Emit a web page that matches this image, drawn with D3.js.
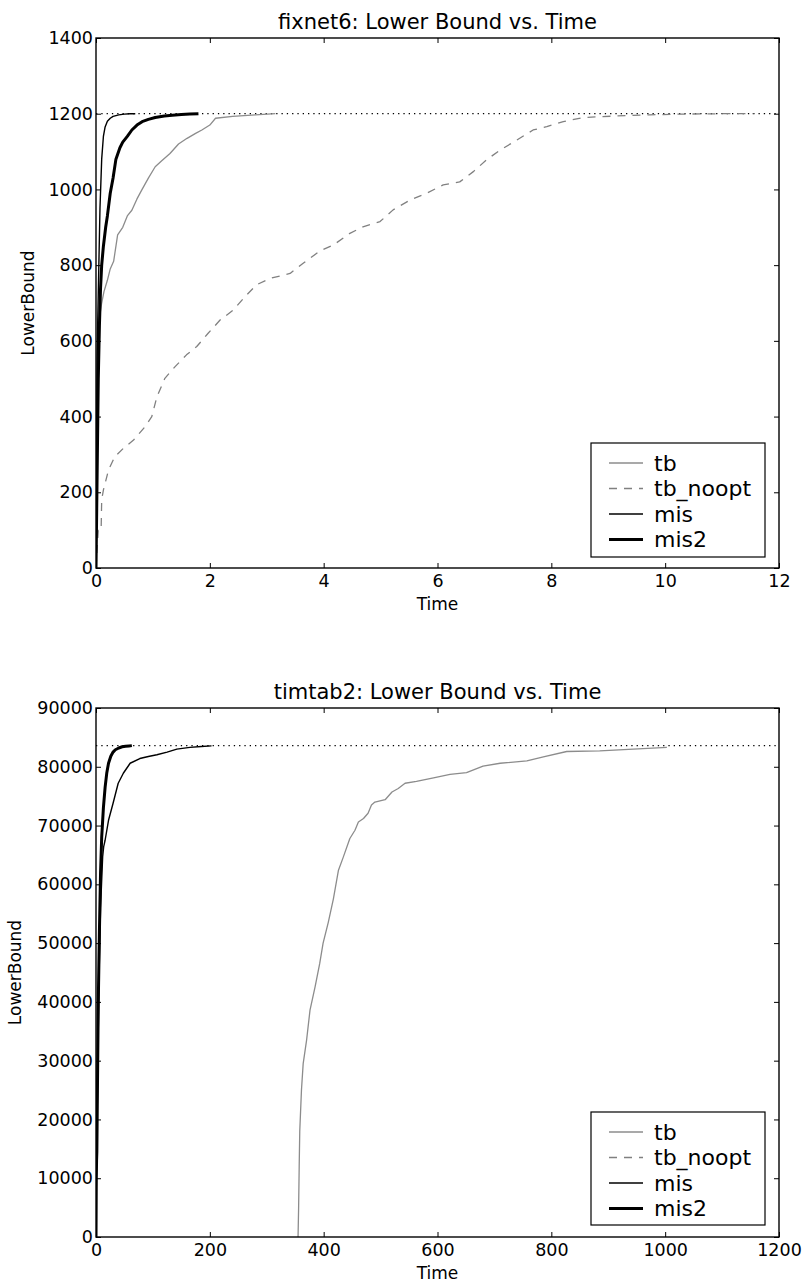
<!DOCTYPE html>
<html><head><meta charset="utf-8">
<script src="https://cdn.jsdelivr.net/npm/d3@7"></script>
<style>
body{margin:0;background:#fff;}
text{font-family:"DejaVu Sans",sans-serif;fill:#000;}
</style></head>
<body><svg id="c" width="806" height="1285"></svg>
<script>
// ---------- DATA ----------
const seriesNames = ["tb","tb_noopt","mis","mis2"];

// fixnet6
const fixnetTitle = "fixnet6: Lower Bound vs. Time";
const fixnetXTicks = [0,2,4,6,8,10,12];
const fixnetYTicks = [0,200,400,600,800,1000,1200,1400];
const fixnetOptimum = 1200;
const fixnet_tb_t = [0,0.01,0.03,0.06,0.1,0.14,0.2,0.25,0.31,0.38,0.47,0.55,0.63,0.72,0.81,0.92,1.04,1.15,1.3,1.45,1.6,1.75,1.86,2.0,2.1,2.4,2.8,3.15];
const fixnet_tb_v = [0,400,620,660,700,730,760,790,810,880,900,930,945,975,1000,1030,1060,1075,1095,1120,1135,1148,1157,1170,1188,1193,1197,1200];
const fixnet_noopt_t = [0,0.04,0.09,0.1,0.13,0.22,0.33,0.48,0.66,0.86,0.98,1.07,1.21,1.39,1.59,1.77,1.97,2.18,2.41,2.62,2.82,3.06,3.41,3.64,3.94,4.17,4.46,4.69,4.99,5.22,5.52,5.81,6.10,6.39,6.63,6.86,7.10,7.39,7.68,7.92,8.21,8.56,9.15,9.73,10.3,11.0,11.55];
const fixnet_noopt_v = [0,100,100,180,206,259,294,316,338,373,400,452,501,532,563,585,620,655,681,717,748,765,778,805,838,853,884,901,915,946,972,990,1012,1020,1047,1078,1104,1130,1157,1166,1179,1190,1194,1197,1199,1200,1200];
const fixnet_mis_t = [0,0.01,0.02,0.03,0.05,0.07,0.1,0.13,0.16,0.2,0.25,0.3,0.4,0.5,0.6,0.69];
const fixnet_mis_v = [0,300,550,650,800,950,1080,1140,1165,1180,1188,1193,1197,1199,1200,1200];
const fixnet_mis2_t = [0,0.02,0.04,0.06,0.08,0.1,0.13,0.17,0.2,0.25,0.3,0.35,0.42,0.47,0.55,0.63,0.72,0.81,0.92,1.04,1.2,1.34,1.5,1.65,1.8];
const fixnet_mis2_v = [0,250,500,640,740,800,850,900,930,990,1030,1080,1110,1125,1140,1157,1170,1179,1185,1190,1194,1196,1198,1199,1200];

// timtab2
const timtabTitle = "timtab2: Lower Bound vs. Time";
const timtabXTicks = [0,200,400,600,800,1000,1200];
const timtabYTicks = [0,10000,20000,30000,40000,50000,60000,70000,80000,90000];
const timtabOptimum = 83600;
const timtab_tb_t = [355,356,357,358,361,364,370,376,385,393,399,408,417,426,434,446,455,461,470,478,484,490,508,520,531,543,563,593,622,651,680,710,757,786,827,885,944,1003];
const timtab_tb_v = [0,5000,12000,18000,25000,29500,33500,38600,42600,46500,50000,53500,57500,62400,64500,67800,69200,70600,71200,72100,73500,74000,74400,75700,76300,77200,77500,78100,78700,79000,80100,80600,81000,81700,82600,82700,83000,83300];
const timtab_noopt_t = [];
const timtab_noopt_v = [];
const timtab_mis_t = [0,0.5,1,2,3.5,5.5,8,11.7,13.5,16,22,30,39,48,60,77,92,107,125,142,165,185,203];
const timtab_mis_v = [0,8000,12000,20000,32000,45000,56000,64700,66400,67500,70900,73800,77200,78900,80600,81400,81750,82050,82500,83000,83300,83450,83550];
const timtab_mis2_t = [0,0.5,1,1.5,2.5,4,6,8,10,13,16,19,22,26,30,34,40,46,52,58,63];
const timtab_mis2_v = [0,10000,13000,14500,25000,40000,52000,62000,68000,73000,76500,79000,80600,81800,82500,82900,83200,83400,83500,83550,83600];

// ---------- STYLES ----------
const styles = {
  tb:{stroke:"#8c8c8c",width:1.3,dash:null},
  tb_noopt:{stroke:"#808080",width:1.3,dash:"8,7"},
  mis:{stroke:"#000",width:1.4,dash:null},
  mis2:{stroke:"#000",width:3,dash:null}
};

const svg = d3.select("#c");

function drawChart(cfg){
  const {left,right,top,bottom} = cfg.box;
  const g = svg.append("g");
  const x = d3.scaleLinear().domain(cfg.xDomain).range([left,right]);
  const y = d3.scaleLinear().domain(cfg.yDomain).range([bottom,top]);

  const clipId = "clip"+cfg.id;
  g.append("clipPath").attr("id",clipId).append("rect")
    .attr("x",left).attr("y",top).attr("width",right-left).attr("height",bottom-top);

  const line = d3.line().x(d=>x(d[0])).y(d=>y(d[1]));
  const plot = g.append("g").attr("clip-path",`url(#${clipId})`);

  plot.append("path").datum([[cfg.xDomain[0],cfg.optimum],[cfg.xDomain[1],cfg.optimum]])
    .attr("d",line).attr("fill","none").attr("stroke","#000").attr("stroke-width",1.3)
    .attr("stroke-dasharray","1.3,4");

  cfg.series.forEach(s=>{
    const pts = s.t.map((t,i)=>[t,s.v[i]]);
    if(!pts.length) return;
    const st = styles[s.name];
    plot.append("path").datum(pts).attr("d",line).attr("fill","none")
      .attr("stroke",st.stroke).attr("stroke-width",st.width)
      .attr("stroke-linejoin","round")
      .attr("stroke-dasharray",st.dash);
  });

  const tl = 5;
  const ax = g.append("g").attr("transform",`translate(0,${bottom})`)
    .call(d3.axisBottom(x).tickValues(cfg.xTicks).tickSize(-tl).tickPadding(7).tickFormat(d3.format("d")));
  const ax2 = g.append("g").attr("transform",`translate(0,${top})`)
    .call(d3.axisTop(x).tickValues(cfg.xTicks).tickSize(-tl).tickFormat(""));
  const ay = g.append("g").attr("transform",`translate(${left},0)`)
    .call(d3.axisLeft(y).tickValues(cfg.yTicks).tickSize(-tl).tickPadding(3).tickFormat(d3.format("d")));
  const ay2 = g.append("g").attr("transform",`translate(${right},0)`)
    .call(d3.axisRight(y).tickValues(cfg.yTicks).tickSize(-tl).tickFormat(""));
  [ax,ax2,ay,ay2].forEach(a=>{
    a.select(".domain").remove();
    a.selectAll(".tick line").attr("stroke","#000").attr("stroke-width",1);
    a.selectAll(".tick text").attr("font-size",17.5).attr("font-family","DejaVu Sans").attr("fill","#000");
  });
  ax.selectAll(".tick text").attr("dy","0.71em");

  g.append("rect").attr("x",left).attr("y",top).attr("width",right-left).attr("height",bottom-top)
    .attr("fill","none").attr("stroke","#000").attr("stroke-width",1.4);

  g.append("text").attr("x",(left+right)/2).attr("y",top-9).attr("text-anchor","middle")
    .attr("font-size",21).text(cfg.title);
  g.append("text").attr("x",(left+right)/2).attr("y",bottom+42).attr("text-anchor","middle")
    .attr("font-size",17).text("Time");
  g.append("text").attr("transform",`translate(${cfg.ylabelX},${(top+bottom)/2}) rotate(-90)`)
    .attr("text-anchor","middle").attr("font-size",17).text("LowerBound");

  const L = cfg.legend;
  g.append("rect").attr("x",L.x).attr("y",L.y).attr("width",L.w).attr("height",L.h)
    .attr("fill","#fff").attr("stroke","#000").attr("stroke-width",1.2);
  seriesNames.forEach((n,i)=>{
    const st = styles[n];
    const yy = L.y + 20 + i*25.5;
    g.append("line").attr("x1",L.x+18).attr("x2",L.x+52).attr("y1",yy).attr("y2",yy)
      .attr("stroke",st.stroke).attr("stroke-width",st.width).attr("stroke-dasharray",st.dash);
    g.append("text").attr("x",L.x+63).attr("y",yy).attr("dy","0.35em").attr("font-size",22).text(n);
  });
}

drawChart({
  id:1, title:fixnetTitle,
  box:{left:96,right:779,top:38,bottom:568},
  xDomain:[0,12], yDomain:[0,1400],
  xTicks:fixnetXTicks, yTicks:fixnetYTicks, optimum:fixnetOptimum,
  ylabelX:34,
  legend:{x:591,y:443,w:174,h:114},
  series:[
    {name:"tb",t:fixnet_tb_t,v:fixnet_tb_v},
    {name:"tb_noopt",t:fixnet_noopt_t,v:fixnet_noopt_v},
    {name:"mis",t:fixnet_mis_t,v:fixnet_mis_v},
    {name:"mis2",t:fixnet_mis2_t,v:fixnet_mis2_v}
  ]
});
drawChart({
  id:2, title:timtabTitle,
  box:{left:96,right:779,top:708,bottom:1237},
  xDomain:[0,1200], yDomain:[0,90000],
  xTicks:timtabXTicks, yTicks:timtabYTicks, optimum:timtabOptimum,
  ylabelX:21,
  legend:{x:591,y:1112,w:174,h:113},
  series:[
    {name:"tb",t:timtab_tb_t,v:timtab_tb_v},
    {name:"tb_noopt",t:timtab_noopt_t,v:timtab_noopt_v},
    {name:"mis",t:timtab_mis_t,v:timtab_mis_v},
    {name:"mis2",t:timtab_mis2_t,v:timtab_mis2_v}
  ]
});
</script></body></html>
